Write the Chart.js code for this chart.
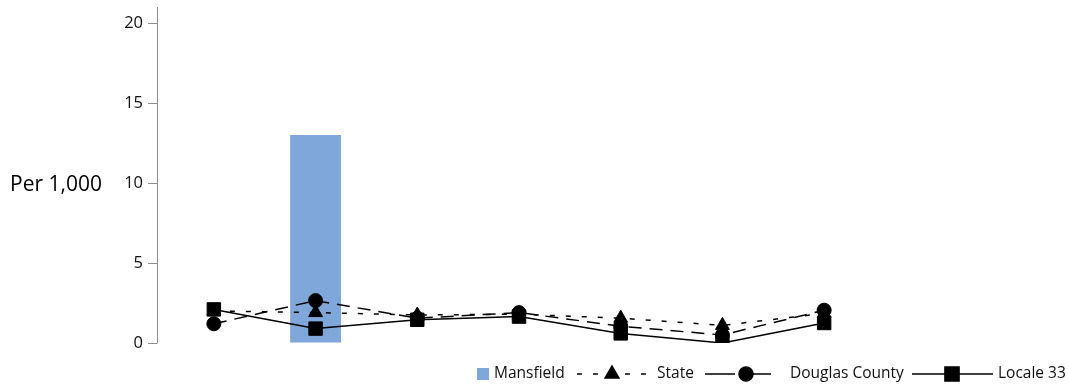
<!DOCTYPE html>
<html>
<head>
<meta charset="utf-8">
<script src="https://cdn.jsdelivr.net/npm/chart.js@4.4.1/dist/chart.umd.min.js"></script>
<style>
    html, body { margin: 0; padding: 0; background: #fff; }
    #wrap { position: relative; width: 1068px; height: 388px; }
</style>
</head>
<body>
<div id="wrap"><canvas id="chart" width="1068" height="388"></canvas></div>
<script>
// Dados do gráfico
const categories = ['1', '2', '3', '4', '5', '6', '7'];
const mansfield = [null, 13.0, null, null, null, null, null];
const state = [2.0, 1.9, 1.75, 1.8, 1.55, 1.1, 1.85];
const douglasCounty = [1.2, 2.65, 1.55, 1.9, 1.05, 0.5, 2.05];
const locale33 = [2.1, 0.9, 1.45, 1.65, 0.6, 0.0, 1.25];
const yTicks = [0, 5, 10, 15, 20];
const yMax = 21;

const FONT = "'Open Sans', 'DejaVu Sans', sans-serif";
const BAR_COLOR = '#7fa7d9';

// Eixo Y desenhado à parte (linha deslocada da área do gráfico)
const axisPlugin = {
    id: 'axisPlugin',
    afterDraw(chart) {
        const ctx = chart.ctx;
        const y = chart.scales.y;
        const area = chart.chartArea;
        const ax = area.left - 6;
        ctx.save();
        ctx.strokeStyle = '#8c8c8c';
        ctx.lineWidth = 1;
        ctx.beginPath();
        ctx.moveTo(ax + 0.5, area.top);
        ctx.lineTo(ax + 0.5, area.bottom);
        yTicks.forEach(v => {
            const py = Math.round(y.getPixelForValue(v)) + 0.5;
            ctx.moveTo(ax - 9, py);
            ctx.lineTo(ax + 0.5, py);
        });
        ctx.stroke();

        ctx.fillStyle = '#000';
        ctx.font = '21px ' + FONT;
        ctx.textAlign = 'left';
        ctx.textBaseline = 'middle';
        ctx.fillText('Per 1,000', 10, 185);
        ctx.restore();
    }
};

// Legenda com linha + marcador
const legendPlugin = {
    id: 'legendPlugin',
    afterDraw(chart) {
        const ctx = chart.ctx;
        const ly = 374;
        ctx.save();
        ctx.font = '15.5px ' + FONT;
        ctx.textBaseline = 'middle';
        ctx.fillStyle = BAR_COLOR;
        ctx.fillRect(477, ly - 6, 12, 12);
        ctx.fillStyle = '#111';
        ctx.fillText('Mansfield', 494, ly);

        const items = [
            { x0: 577, x1: 647, mx: 612, dash: [5, 11], style: 'triangle', r: 8, text: 'State', tx: 657 },
            { x0: 705, x1: 771, mx: 746, dash: [30, 6], style: 'circle', r: 7, text: 'Douglas County', tx: 790 },
            { x0: 912, x1: 993, mx: 952, dash: [], style: 'rect', r: 10, text: 'Locale 33', tx: 998 }
        ];
        items.forEach(it => {
            ctx.strokeStyle = '#000';
            ctx.lineWidth = 1.5;
            ctx.setLineDash(it.dash);
            ctx.beginPath();
            ctx.moveTo(it.x0, ly);
            ctx.lineTo(it.x1, ly);
            ctx.stroke();
            ctx.setLineDash([]);
            ctx.fillStyle = '#000';
            Chart.helpers.drawPoint(ctx, { pointStyle: it.style, radius: it.r, rotation: 0, borderWidth: 1 }, it.mx, ly);
            ctx.fillStyle = '#111';
            ctx.fillText(it.text, it.tx, ly);
        });
        ctx.restore();
    }
};

const ctx = document.getElementById('chart').getContext('2d');
new Chart(ctx, {
    type: 'bar',
    data: {
        labels: categories,
        datasets: [
            {
                label: 'Mansfield',
                data: mansfield,
                backgroundColor: BAR_COLOR,
                barPercentage: 0.5,
                categoryPercentage: 1,
                order: 4
            },
            {
                type: 'line',
                label: 'State',
                data: state,
                borderColor: '#000',
                borderWidth: 1.5,
                borderDash: [5, 11],
                pointStyle: 'triangle',
                pointRadius: 8,
                pointBackgroundColor: '#000',
                pointBorderColor: '#000',
                pointBorderWidth: 1,
                tension: 0,
                order: 3
            },
            {
                type: 'line',
                label: 'Douglas County',
                data: douglasCounty,
                borderColor: '#000',
                borderWidth: 1.5,
                borderDash: [13, 8],
                pointStyle: 'circle',
                pointRadius: 7,
                pointBackgroundColor: '#000',
                pointBorderColor: '#000',
                pointBorderWidth: 1,
                tension: 0,
                order: 2
            },
            {
                type: 'line',
                label: 'Locale 33',
                data: locale33,
                borderColor: '#000',
                borderWidth: 1.5,
                pointStyle: 'rect',
                pointRadius: 9.5,
                pointBackgroundColor: '#000',
                pointBorderColor: '#000',
                pointBorderWidth: 1,
                tension: 0,
                order: 1
            }
        ]
    },
    options: {
        responsive: false,
        devicePixelRatio: 1,
        animation: false,
        layout: { autoPadding: false, padding: { left: 0, right: 193, top: 7, bottom: 45 } },
        plugins: {
            legend: { display: false },
            tooltip: { enabled: false }
        },
        scales: {
            x: {
                display: false,
                offset: true
            },
            y: {
                min: 0,
                max: yMax,
                afterBuildTicks: s => { s.ticks = yTicks.map(v => ({ value: v })); },
                afterFit: s => {
                    s.width = 163;
                    s.paddingTop = 0;
                    s.paddingBottom = 0;
                },
                ticks: {
                    color: '#111',
                    padding: 5,
                    font: { family: FONT, size: 16.5 }
                },
                grid: { drawOnChartArea: false, color: 'rgba(0,0,0,0)', tickLength: 15 },
                border: { display: false }
            }
        }
    },
    plugins: [axisPlugin, legendPlugin]
});
</script>
</body>
</html>
